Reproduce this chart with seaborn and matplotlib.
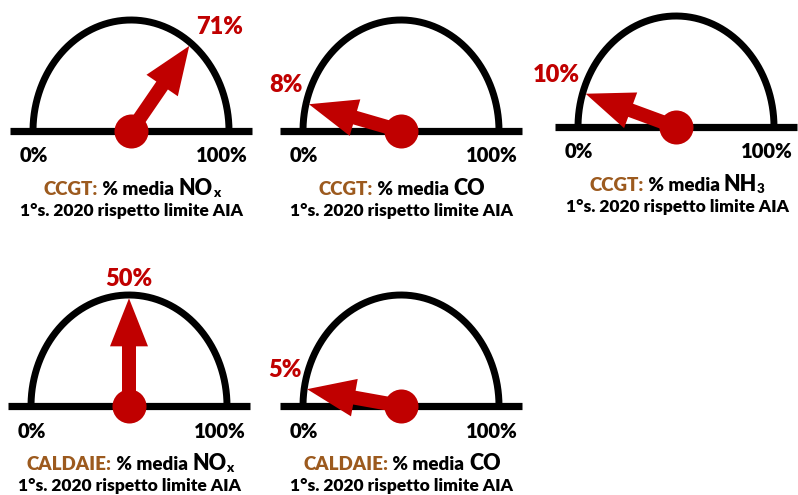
import numpy as np
import matplotlib
matplotlib.use("Agg")
import matplotlib.pyplot as plt
import seaborn as sns
import pandas as pd
from matplotlib.patches import FancyArrow

# ---- data ----
plants = ["CCGT", "CCGT", "CCGT", "CALDAIE", "CALDAIE"]
pollutants = ["NO", "CO", "NH", "NO", "CO"]
subscripts = ["x", "", "3", "x", ""]
percent = [71, 8, 10, 50, 5]
value_labels = ["71%", "8%", "10%", "50%", "5%"]
scale_labels = ["0%", "100%"]
subtitle = "1°s. 2020 rispetto limite AIA"

# ---- style ----
W, H = 798, 495
RED = "#C00000"
BROWN = "#9C5A1E"
BLACK = "#000000"
WEIGHT = "heavy"
sns.set_theme(style="white")
plt.rcParams["font.family"] = ["Lato", "DejaVu Sans"]

fig = plt.figure(figsize=(W / 100, H / 100), dpi=100)
fig.patch.set_facecolor("white")

centers = [(131, 131), (401, 131), (676, 127), (129, 406), (401, 406)]
RX, RY = 98, 111          # gauge half-width / height in px
BASE = 121                # half length of the base line
AX_HALF_W, AX_TOP, AX_BOT = 140, 130, 40

renderer = fig.canvas.get_renderer()


def rich_text(cx, base_y, pieces):
    texts = []
    for s, color, size, dy in pieces:
        t = fig.text(0, 0, s, color=color, fontsize=size, fontweight=WEIGHT,
                     ha="left", va="baseline")
        texts.append((t, dy))
    widths = [t.get_window_extent(renderer).width for t, _ in texts]
    x = cx - sum(widths) / 2
    for (t, dy), w in zip(texts, widths):
        t.set_position((x / W, 1 - (base_y + dy) / H))
        x += w


for i, (cx, cy) in enumerate(centers):
    ax = fig.add_axes([(cx - AX_HALF_W) / W, 1 - (cy + AX_BOT) / H,
                       2 * AX_HALF_W / W, (AX_TOP + AX_BOT) / H])
    ax.set_xlim(-AX_HALF_W, AX_HALF_W)
    ax.set_ylim(-AX_BOT, AX_TOP)
    ax.set_axis_off()

    th = np.linspace(0, np.pi, 200)
    ax.plot(RX * np.cos(th), RY * np.sin(th), color=BLACK, lw=5,
            solid_capstyle="butt", zorder=2)
    ax.plot([-BASE, BASE], [0, 0], color=BLACK, lw=5.2,
            solid_capstyle="butt", zorder=3)

    ang = np.pi * (1 - percent[i] / 100)
    tipx, tipy = 0.97 * RX * np.cos(ang), 0.97 * RY * np.sin(ang)
    ax.add_patch(FancyArrow(0, 0, tipx, tipy, width=14, head_width=38,
                            head_length=48, length_includes_head=True,
                            color=RED, lw=0, zorder=4))
    df = pd.DataFrame({"x": [0.0], "y": [0.0]})
    sns.scatterplot(data=df, x="x", y="y", ax=ax, s=600, color=RED,
                    linewidth=0, zorder=5, legend=False)
    ax.set_xlabel("")
    ax.set_ylabel("")

    # value label near arrow tip
    if abs(np.cos(ang)) < 0.2:
        ha, dx = "center", 0
    elif np.cos(ang) > 0:
        ha, dx = "left", 7
    else:
        ha, dx = "right", -6
    ax.text(tipx + dx, tipy + 19, value_labels[i], color=RED, fontsize=17,
            fontweight=WEIGHT, ha=ha, va="center", clip_on=False)

    # scale labels
    fig.text((cx - 97) / W, 1 - (cy + 25) / H, scale_labels[0], fontsize=14.5,
             fontweight=WEIGHT, color=BLACK, ha="center", va="center")
    fig.text((cx + 91) / W, 1 - (cy + 25) / H, scale_labels[1], fontsize=14.5,
             fontweight=WEIGHT, color=BLACK, ha="center", va="center")

    # title line
    pieces = [(plants[i] + ":", BROWN, 13.5, 0),
              (" % media ", BLACK, 13.5, 0),
              (pollutants[i], BLACK, 15.5, 0)]
    if subscripts[i]:
        pieces.append((subscripts[i], BLACK, 9.5, 2))
    rich_text(cx + 1, cy + 64, pieces)
    fig.text((cx + 1) / W, 1 - (cy + 80) / H, subtitle, fontsize=12.5,
             fontweight=WEIGHT, color=BLACK, ha="center", va="center")

fig.savefig("out.png", dpi=100)
